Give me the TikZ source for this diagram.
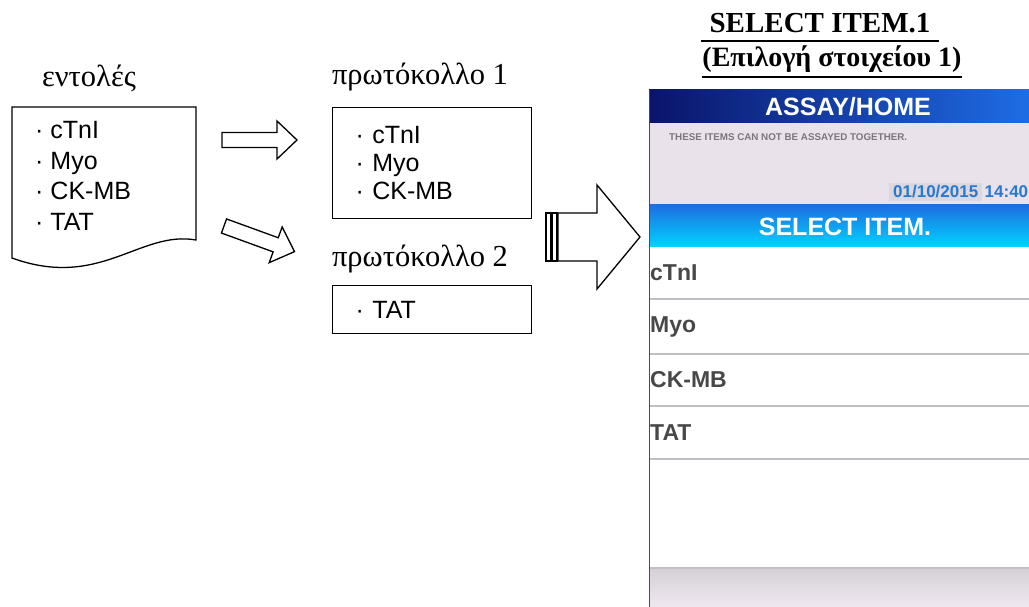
\documentclass[tikz,border=0pt]{standalone}
\usepackage{fontspec}
\newfontfamily\grfont{Liberation Serif}
\newfontfamily\arialfont{Liberation Sans}
\usepackage{xcolor}
\usepackage{tikz}
\usetikzlibrary{positioning,calc}
\definecolor{navybar}{RGB}{10,20,105}
\definecolor{bluebar}{RGB}{30,108,228}
\definecolor{selecttop}{RGB}{30,110,225}
\definecolor{selectbot}{RGB}{0,212,255}
\definecolor{lavpane}{RGB}{233,226,235}
\definecolor{datefg}{RGB}{40,120,210}
\definecolor{datebg}{RGB}{218,216,222}
\definecolor{warnfg}{RGB}{122,118,124}
\definecolor{itemfg}{RGB}{72,72,72}
\definecolor{rowline}{RGB}{192,192,196}
\definecolor{paneledge}{RGB}{55,70,150}
\definecolor{footbar}{RGB}{240,232,240}

\begin{document}
\begin{tikzpicture}[x=1pt, y=-1pt,
    grlabel/.style={font=\grfont\fontsize{30.5}{32}\selectfont, inner sep=0pt},
    listbox/.style={draw, line width=1.3pt, inner xsep=23pt, inner ysep=0pt, align=left, font=\arialfont\fontsize{25}{28}\selectfont},
    blockarr/.style={draw, line width=1.3pt, fill=white, line join=miter},
    titletext/.style={font=\grfont\bfseries\fontsize{29}{31}\selectfont, anchor=base},
    uline/.style={line width=2pt},
    bartext/.style={text=white, font=\arialfont\bfseries\fontsize{25}{28}\selectfont, inner sep=0pt},
    itemtext/.style={anchor=west, text=itemfg, font=\arialfont\bfseries\fontsize{23}{26}\selectfont, inner sep=0pt},
    rowsep/.style={draw=rowline, line width=1.5pt}
]
\useasboundingbox (0,0) rectangle (1029,607);

% order sheet
\draw[line width=1.3pt] (12,258) -- (12,107) -- (196,107) -- (196,240) .. controls (140,230) and (100,290) .. (12,258) -- cycle;
\node[grlabel] (ordlbl) at (89,78) {εντολές};
\node[anchor=north west, inner sep=0pt, align=left, font=\arialfont\fontsize{25}{30.7}\selectfont] (orders) at (35,121) {· cTnI\\· Myo\\· CK-MB\\· TAT};

% protocols
\node[grlabel] (p1lbl) at (420,77) {πρωτόκολλο 1};
\node[listbox, anchor=north west, minimum width=199pt, minimum height=111pt, text width=153pt] (prot1) at (332,107) {· cTnI\\· Myo\\· CK-MB};
\node[grlabel] (p2lbl) at (420,259) {πρωτόκολλο 2};
\node[listbox, anchor=north west, minimum width=199pt, minimum height=48pt, text width=153pt] (prot2) at (332,285) {· TAT};

\draw[blockarr, shift={(222,140)}] (0,-7.5) -- (55,-7.5) -- (55,-19) -- (75,0) -- (55,19) -- (55,7.5) -- (0,7.5) -- cycle;
\draw[blockarr, shift={(224,226)}, rotate=-20] (0,-7.5) -- (55,-7.5) -- (55,-19) -- (75,0) -- (55,19) -- (55,7.5) -- (0,7.5) -- cycle;

% big arrow to the screen
\draw[line width=1.2pt] (546,213) rectangle (551,261);
\draw[line width=1.2pt] (552,213) rectangle (557,261);
\draw[blockarr] (558,213) -- (597,213) -- (597,185) -- (640,237) -- (597,289) -- (597,261) -- (558,261) -- cycle;

% screen title
\node[titletext, inner xsep=8pt, inner ysep=7pt] (ttl) at (820,33) {SELECT ITEM.1};
\node[titletext, font=\grfont\bfseries\fontsize{28}{30}\selectfont, inner xsep=0pt, inner ysep=4pt] (ttlgr) at (832,67) {(Επιλογή στοιχείου 1)};
\draw[uline] (ttl.south west) -- (ttl.south east);
\draw[uline] (ttlgr.south west) -- (ttlgr.south east);

% screen
\begin{scope}
\clip (649,85) rectangle (1029,607);
\shade[left color=navybar, right color=bluebar] (649,90) rectangle (1029,123);
\fill[lavpane] (649,123) rectangle (1029,205);
\shade[top color=selecttop, bottom color=selectbot] (649,205) rectangle (1029,247);
\fill[white] (649,247) rectangle (1029,568);
\shade[top color=rowline!60!footbar, bottom color=footbar] (649,568) rectangle (1029,607);
\end{scope}
\draw[rowsep] (649,299) -- (1029,299);
\draw[rowsep] (649,354) -- (1029,354);
\draw[rowsep] (649,406) -- (1029,406);
\draw[rowsep] (649,459) -- (1029,459);
\draw[rowsep] (649,568) -- (1029,568);
\draw[paneledge, line width=1pt] (649,90) -- (649,607);

\node[bartext] (hdr) at (848,107) {ASSAY/HOME};
\node[anchor=west, inner sep=0pt, text=warnfg, font=\arialfont\bfseries\fontsize{9.8}{11}\selectfont] (warn) at (669,137) {THESE ITEMS CAN NOT BE ASSAYED TOGETHER.};
\node[anchor=west, fill=datebg, inner xsep=4pt, inner ysep=3pt, text=datefg, font=\arialfont\bfseries\fontsize{17}{19}\selectfont] (dday) at (889,192) {01/10/2015};
\node[right=2pt of dday, inner sep=0pt, text=datefg, font=\arialfont\bfseries\fontsize{17}{19}\selectfont] (dtime) {14:40};
\node[bartext] (sel) at (845,227) {SELECT ITEM.};

\node[itemtext] (itA) at (650,273) {cTnI};
\node[itemtext] (itB) at (650,327) {Myo};
\node[itemtext] (itC) at (650,380) {CK-MB};
\node[itemtext] (itD) at (650,433) {TAT};
\end{tikzpicture}
\end{document}
